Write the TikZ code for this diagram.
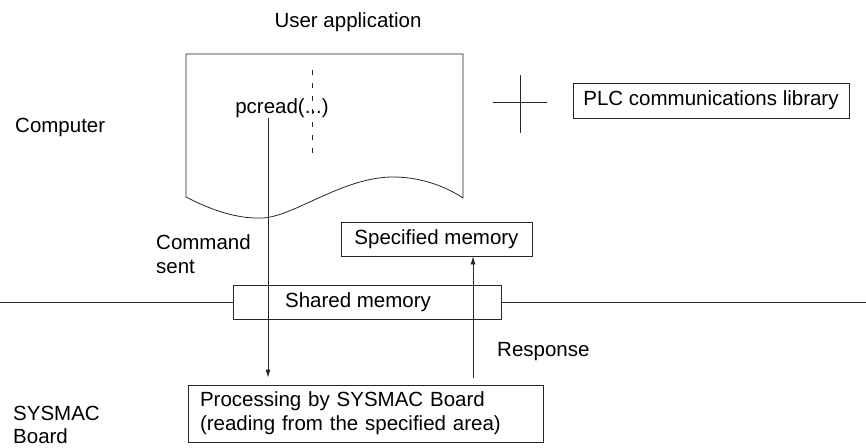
\documentclass[tikz,border=0pt]{standalone}
\usepackage{fontspec}
\setmainfont{Liberation Sans}
\usetikzlibrary{arrows.meta}
\begin{document}
\begin{tikzpicture}[x=1pt,y=-1pt,
  lbl/.style={inner sep=0pt, font=\fontsize{20.5pt}{24pt}\selectfont, align=left},
  boxed/.style={draw=black!85, line width=0.8pt, inner sep=0pt, font=\fontsize{20.5pt}{24pt}\selectfont},
  ln/.style={draw=black!85, line width=0.8pt},
  arr/.style={ln, -{Latex[length=8pt,width=5pt]}}]
\useasboundingbox (0,0) rectangle (866,447);
% labels
\node[lbl] (userapp) at (348,22) {User application};
\node[lbl, anchor=west] (computer) at (15,127) {Computer};
\node[lbl, anchor=west, font=\fontsize{20.5pt}{23pt}\selectfont] (sysmac) at (13,425) {SYSMAC\\Board};
\node[lbl, anchor=west] (cmd) at (156,254) {Command\\sent};
\node[lbl, anchor=west] (resp) at (497,352) {Response};
% document shape
\draw[ln] (186,197) -- (186,54) -- (463,54) -- (463,198)
  .. controls (445,186) and (420,177) .. (393,177)
  .. controls (343,177) and (295,216) .. (263,218)
  .. controls (240,219) and (215,212) .. (186,197);
\node[lbl] (pcread) at (282,108) {pcread(...)};
\coordinate (dtop) at (312,70);
\coordinate (dbot) at (312,160);
\draw[ln, dash pattern=on 5pt off 8pt] (dtop) -- (dbot);
% cross and library
\coordinate (cl) at (493,102);
\coordinate (cr) at (547,102);
\coordinate (ct) at (520,75);
\coordinate (cb) at (520,133);
\draw[ln] (cl) -- (cr);
\draw[ln] (ct) -- (cb);
\node[boxed, minimum width=276pt, minimum height=35pt] (plc) at (711,100.5) {PLC communications library};
% memory boxes
\node[boxed, minimum width=191pt, minimum height=34pt] (spec) at (436.5,239) {Specified memory};
\node[boxed, minimum width=268pt, minimum height=34pt] (shared) at (367,302.5) {Shared memory\hspace*{18pt}};
\coordinate (lineL) at (0,302.5);
\coordinate (lineR) at (866,302.5);
\draw[ln] (lineL) -- (shared.west);
\draw[ln] (shared.east) -- (lineR);
% processing box
\node[boxed, minimum height=57pt, text width=331pt, inner xsep=12pt, align=left] (proc) at (365.5,413.5) {Processing by SYSMAC Board\\(reading from the specified area)};
% arrows
\coordinate (rx) at (473,0);
\draw[arr, shorten >=7pt] ([xshift=-14pt]pcread.south) -- ([xshift=-14pt]pcread.south |- proc.north);
\draw[arr, shorten <=7pt] (rx |- proc.north) -- (rx |- spec.south);
\end{tikzpicture}
\end{document}
